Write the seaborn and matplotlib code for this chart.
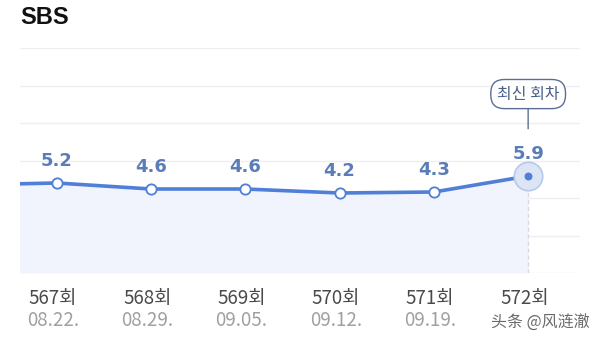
import matplotlib
matplotlib.use("Agg")
import matplotlib.pyplot as plt
import matplotlib.transforms as mtransforms
import seaborn as sns
import pandas as pd
import numpy as np

# ---- data ----
episodes = ["567회", "568회", "569회", "570회", "571회", "572회"]
dates = ["08.22.", "08.29.", "09.05.", "09.12.", "09.19.", "09.20."]
ratings = [5.2, 4.6, 4.6, 4.2, 4.3, 5.9]
prev_rating = 5.0  # previous episode (off the left edge, estimated)
title = "SBS"
badge = "최신 회차"
watermark = "头条 @风涟澈"

sns.set_theme(style="white")
plt.rcParams["font.family"] = ["Noto Sans CJK KR", "DejaVu Sans"]

LINE = "#4f7fd6"
LABEL = "#5a7db8"

fig = plt.figure(figsize=(6.0, 3.42), dpi=100)
ax = fig.add_axes([20 / 600, 69 / 342, 560 / 600, 225 / 342])

x = list(range(len(ratings)))
df = pd.DataFrame({"x": x, "rating": ratings})
full_x = [-1] + x
full_y = [prev_rating] + ratings

ylo, yhi = -3.8, 18.7
ax.set_xlim(-0.39, 5.55)
ax.set_ylim(ylo, yhi)

# grid lines
for gy in np.linspace(ylo, yhi, 7):
    ax.axhline(gy, color="#efeff3", lw=1, zorder=0)

# fill under line
ax.fill_between(full_x, full_y, ylo, color="#f1f4fd", zorder=1, lw=0)

# dashed guide at latest point
ax.plot([x[-1], x[-1]], [ylo, ratings[-1]], color="#d8dae1", lw=1,
        ls=(0, (3, 2)), zorder=1)

# line
sns.lineplot(x=full_x, y=full_y, ax=ax, color=LINE, lw=2.6, zorder=2)
# markers for earlier episodes
sns.scatterplot(data=df.iloc[:-1], x="x", y="rating", ax=ax, s=55,
                color="white", edgecolor=LINE, linewidth=1.3, zorder=3)
# latest episode marker
ax.scatter([x[-1]], [ratings[-1]], s=420, color="#dce5f6",
           edgecolor="#b9c8e6", linewidth=1.2, zorder=3)
ax.scatter([x[-1]], [ratings[-1]], s=22, color=LINE, zorder=4)

# value labels
for xi, v in zip(x, ratings):
    ax.annotate(f"{v:.1f}", (xi, v), xytext=(0, 16), textcoords="offset points",
                ha="center", va="center", fontsize=13, fontweight="bold",
                color=LABEL, family=["DejaVu Sans"])

# badge
ax.annotate(badge, (x[-1], ratings[-1]), xytext=(0, 59), textcoords="offset points",
            ha="center", va="center", fontsize=11.5, color="#4a5f8c",
            bbox=dict(boxstyle="round,pad=0.38,rounding_size=0.85", fc="white",
                      ec="#5b6f96", lw=1.0),
            arrowprops=dict(arrowstyle="-", color="#5b6f96", lw=1.0,
                            shrinkA=0, shrinkB=34))

# x labels
trans = mtransforms.blended_transform_factory(ax.transData, ax.transAxes)
for xi, ep, d in zip(x, episodes, dates):
    ax.text(xi - 0.04, -0.112, ep, transform=trans, ha="center", va="center",
            fontsize=13.5, color="#4a4a4a", clip_on=False, fontweight="light")
    if xi < len(x) - 1:
        ax.text(xi - 0.04, -0.21, d, transform=trans, ha="center", va="center",
                fontsize=13.5, color="#a0a0a0", clip_on=False, fontweight="light")

ax.set_xticks([])
ax.set_yticks([])
ax.set_xlabel("")
ax.set_ylabel("")
for s in ax.spines.values():
    s.set_visible(False)

fig.text(20 / 600, 1 - 18 / 342, title, ha="left", va="center", fontsize=17,
         fontweight="bold", color="#111111", family=["Liberation Sans"])
fig.text(590 / 600, 1 - 323 / 342, watermark, ha="right", va="center",
         fontsize=11.5, color="#6a6a6a", family=["Noto Sans CJK SC", "DejaVu Sans"])

fig.savefig("out.png", dpi=100, facecolor="white")
